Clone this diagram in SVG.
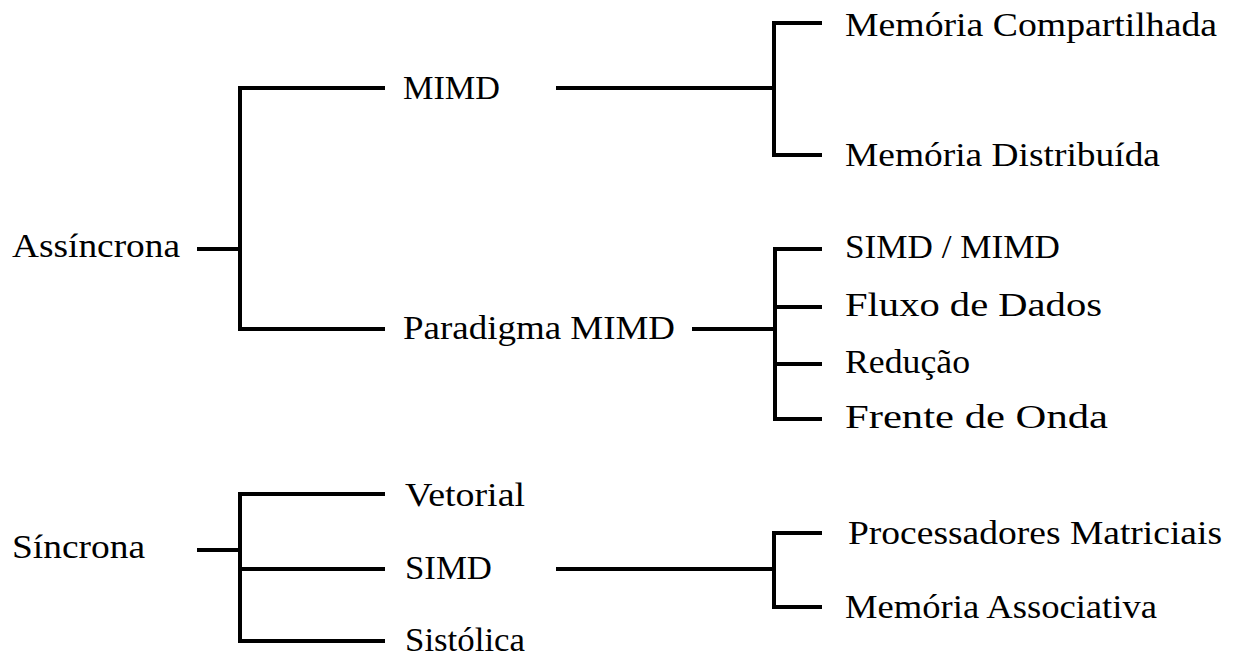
<svg xmlns="http://www.w3.org/2000/svg" width="1233" height="659" viewBox="0 0 1233 659">
  <style>
    .bg { fill: #ffffff; }
    .wire { fill: none; stroke: #000000; stroke-width: 4; stroke-linecap: butt; stroke-linejoin: miter; }
    .lbl { font-family: 'Liberation Serif', 'Times New Roman', serif; font-size: 34px; fill: #000000; }
  </style>
  <rect class="bg" x="0" y="0" width="1233" height="659"/>

  <!-- bracket connectors -->
  <g id="connectors">
    <!-- Assíncrona -->
    <path class="wire" d="M197,249 H240"/>
    <path class="wire" d="M385,88 H240 V329 H385"/>
    <!-- MIMD -->
    <path class="wire" d="M556,88 H774"/>
    <path class="wire" d="M822,23 H774 V155 H822"/>
    <!-- Paradigma MIMD -->
    <path class="wire" d="M692,329 H775"/>
    <path class="wire" d="M822,249 H775 V419 H822"/>
    <path class="wire" d="M775,307 H822"/>
    <path class="wire" d="M775,364 H822"/>
    <!-- Síncrona -->
    <path class="wire" d="M197,550 H240"/>
    <path class="wire" d="M385,494 H240 V641 H385"/>
    <path class="wire" d="M240,569 H385"/>
    <!-- SIMD -->
    <path class="wire" d="M556,569 H774"/>
    <path class="wire" d="M822,533 H774 V607 H822"/>
  </g>

  <g id="node-assincrona"><text class="lbl" x="12" y="257" textLength="168" lengthAdjust="spacingAndGlyphs">Assíncrona</text></g>
  <g id="node-mimd"><text class="lbl" x="403" y="99" textLength="97" lengthAdjust="spacingAndGlyphs">MIMD</text></g>
  <g id="node-paradigma-mimd"><text class="lbl" x="403" y="339" textLength="272" lengthAdjust="spacingAndGlyphs">Paradigma MIMD</text></g>
  <g id="node-memoria-compartilhada"><text class="lbl" x="845" y="36" textLength="372" lengthAdjust="spacingAndGlyphs">Memória Compartilhada</text></g>
  <g id="node-memoria-distribuida"><text class="lbl" x="845" y="166" textLength="315" lengthAdjust="spacingAndGlyphs">Memória Distribuída</text></g>
  <g id="node-simd-mimd"><text class="lbl" x="845" y="258" textLength="215" lengthAdjust="spacingAndGlyphs">SIMD / MIMD</text></g>
  <g id="node-fluxo-dados"><text class="lbl" x="845" y="316" textLength="257" lengthAdjust="spacingAndGlyphs">Fluxo de Dados</text></g>
  <g id="node-reducao"><text class="lbl" x="845" y="373" textLength="125" lengthAdjust="spacingAndGlyphs">Redução</text></g>
  <g id="node-frente-onda"><text class="lbl" x="845" y="428" textLength="263" lengthAdjust="spacingAndGlyphs">Frente de Onda</text></g>
  <g id="node-sincrona"><text class="lbl" x="12" y="558" textLength="133" lengthAdjust="spacingAndGlyphs">Síncrona</text></g>
  <g id="node-vetorial"><text class="lbl" x="405" y="506" textLength="120" lengthAdjust="spacingAndGlyphs">Vetorial</text></g>
  <g id="node-simd"><text class="lbl" x="405" y="579" textLength="87" lengthAdjust="spacingAndGlyphs">SIMD</text></g>
  <g id="node-sistolica"><text class="lbl" x="405" y="651" textLength="120" lengthAdjust="spacingAndGlyphs">Sistólica</text></g>
  <g id="node-processadores-matriciais"><text class="lbl" x="848" y="544" textLength="374" lengthAdjust="spacingAndGlyphs">Processadores Matriciais</text></g>
  <g id="node-memoria-associativa"><text class="lbl" x="845" y="618" textLength="312" lengthAdjust="spacingAndGlyphs">Memória Associativa</text></g>
</svg>
